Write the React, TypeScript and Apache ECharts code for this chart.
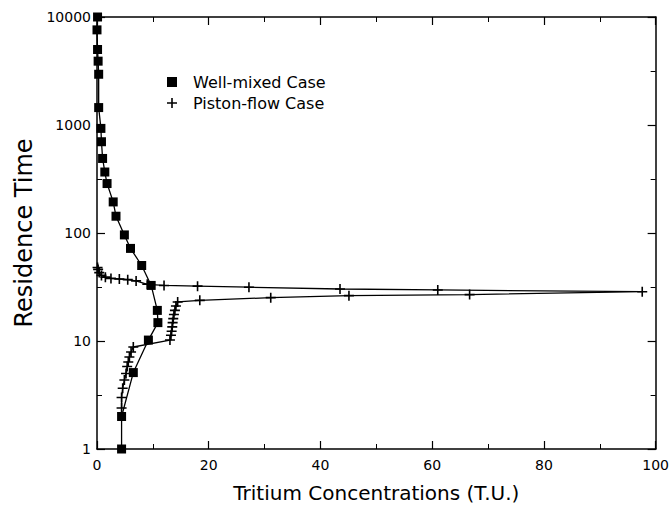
import React, { useEffect, useRef } from "react";
import * as echarts from "echarts";

// Well-mixed case (x: tritium concentration T.U., y: residence time)
const wellMixedX = [0.1, 0.0, 0.1, 0.2, 0.3, 0.3, 0.7, 0.8, 1.0, 1.4, 1.8, 2.9, 3.4, 4.9, 6.0, 8.0, 9.7, 10.8, 10.9, 9.2, 6.5, 4.4, 4.4];
const wellMixedY = [10000, 7600, 5000, 3900, 2950, 1450, 930, 700, 490, 367, 287, 194, 143, 96, 72, 50, 32.7, 19.2, 14.8, 10.2, 5.1, 2.0, 1.0];

// Piston-flow case
const pistonX = [4.4, 4.4, 4.6, 4.9, 5.2, 5.4, 5.6, 5.8, 6.1, 6.5, 13.06, 13.24, 13.36, 13.47, 13.54, 13.65, 13.77, 13.95, 14.13, 14.44, 18.4, 31.1, 45.1, 66.7, 97.6, 61.0, 43.5, 27.2, 18.0, 12.0, 9.0, 7.0, 5.5, 4.0, 2.5, 1.5, 0.8, 0.4, 0.2, 0.1];
const pistonY = [2.4, 3.0, 3.65, 4.35, 5.0, 5.8, 6.4, 7.1, 7.9, 8.8, 10.2, 11.3, 12.3, 13.5, 14.8, 16.1, 17.6, 19.2, 21.1, 23.0, 23.8, 25.2, 26.3, 26.9, 28.6, 29.7, 30.3, 31.5, 32.2, 32.7, 33.5, 36.0, 37.0, 37.5, 38.0, 39.0, 40.5, 43.0, 46.0, 48.0];

const xTicks = [0, 20, 40, 60, 80, 100];
const yTickLabels = ["1", "10", "100", "1000", "10000"];
// half-decade minor ticks of the log axis, in decades
const yMinorDecades = [0, 4];

const seriesNames = ["Well-mixed Case", "Piston-flow Case"];
const xAxisTitle = "Tritium Concentrations (T.U.)";
const yAxisTitle = "Residence Time";

const PLUS = "path://M4.2,0H5.8V10H4.2ZM0,4.2H10V5.8H0Z";
const FONT = "DejaVu Sans, Liberation Sans, Arial, sans-serif";

export default function App() {
  const ref = useRef<HTMLDivElement>(null);
  useEffect(() => {
    if (!ref.current) return;
    const chart = echarts.init(ref.current, null, { renderer: "svg" });
    const wm = wellMixedX.map((x, i) => [x, wellMixedY[i]]);
    const pf = pistonX.map((x, i) => [x, pistonY[i]]);
    const axisLine = { show: true, onZero: false, lineStyle: { color: "#000", width: 1.5 } };
    const tick = { show: true, inside: true, length: 8, lineStyle: { color: "#000", width: 1.2 } };
    const minor = { show: true, splitNumber: 2, length: 5, lineStyle: { color: "#000", width: 1 } };
    const yLabelFmt = (v: number) => {
      const idx = Math.round(Math.log10(v));
      return yTickLabels[idx] ?? String(v);
    };
    const minorY = (pos: "left" | "right") => ({
      type: "value",
      position: pos,
      min: yMinorDecades[0],
      max: yMinorDecades[1],
      interval: 0.5,
      axisLine: { show: false, onZero: false },
      axisTick: { show: true, inside: true, length: 5, lineStyle: { color: "#000", width: 1 } },
      axisLabel: { show: false },
      splitLine: { show: false },
    });
    chart.setOption({
      animation: false,
      backgroundColor: "#fff",
      textStyle: { fontFamily: FONT },
      grid: { left: 97, right: 16, top: 17, bottom: 57, containLabel: false },
      legend: {
        left: 167,
        top: 74,
        padding: 0,
        orient: "vertical",
        itemWidth: 10,
        itemHeight: 10,
        itemGap: 5,
        textStyle: { fontSize: 16, color: "#000", fontFamily: FONT, padding: [0, 0, 0, 11] },
        data: [
          { name: seriesNames[0], icon: "rect" },
          { name: seriesNames[1], icon: PLUS },
        ],
      },
      xAxis: [
        {
          type: "value",
          position: "bottom",
          min: xTicks[0],
          max: xTicks[xTicks.length - 1],
          interval: 20,
          name: xAxisTitle,
          nameLocation: "middle",
          nameGap: 34,
          nameTextStyle: { fontSize: 20, color: "#000", fontFamily: FONT },
          axisLine,
          axisTick: tick,
          minorTick: minor,
          axisLabel: { fontSize: 14, color: "#000", margin: 9, fontFamily: FONT },
          splitLine: { show: false },
        },
        {
          type: "value",
          position: "top",
          min: xTicks[0],
          max: xTicks[xTicks.length - 1],
          interval: 20,
          axisLine,
          axisTick: tick,
          minorTick: minor,
          axisLabel: { show: false },
          splitLine: { show: false },
        },
      ],
      yAxis: [
        {
          type: "log",
          logBase: 10,
          position: "left",
          min: 1,
          max: 10000,
          name: yAxisTitle,
          nameLocation: "middle",
          nameGap: 60,
          nameTextStyle: { fontSize: 24, color: "#000", fontFamily: FONT },
          axisLine,
          axisTick: tick,
          axisLabel: { fontSize: 14, color: "#000", margin: 6, fontFamily: FONT, formatter: yLabelFmt },
          splitLine: { show: false },
        },
        {
          type: "log",
          logBase: 10,
          position: "right",
          min: 1,
          max: 10000,
          axisLine,
          axisTick: tick,
          axisLabel: { show: false },
          splitLine: { show: false },
        },
        minorY("left"),
        minorY("right"),
      ],
      series: [
        {
          name: seriesNames[0],
          type: "line",
          data: wm,
          symbol: "rect",
          symbolSize: 9,
          itemStyle: { color: "#000" },
          lineStyle: { color: "#000", width: 1.3 },
          z: 3,
        },
        {
          name: seriesNames[1],
          type: "line",
          data: pf,
          symbol: PLUS,
          symbolSize: 10,
          itemStyle: { color: "#000" },
          lineStyle: { color: "#000", width: 1.3 },
          z: 2,
        },
      ],
    });
    return () => chart.dispose();
  }, []);
  return <div ref={ref} style={{ position: "fixed", left: 0, top: 0, width: 672, height: 508 }} />;
}
